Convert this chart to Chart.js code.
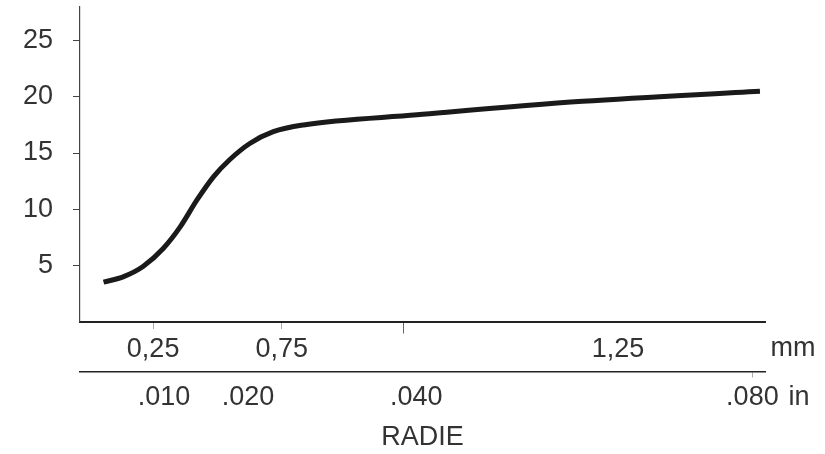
<!DOCTYPE html>
<html>
<head>
<meta charset="utf-8">
<script src="https://cdn.jsdelivr.net/npm/chart.js@4.4.1/dist/chart.umd.min.js"></script>
<style>
    body { margin: 0; background: #fff; }
    #wrap { width: 825px; height: 454px; }
</style>
</head>
<body>
<div id="wrap"><canvas id="chart1"></canvas></div>
<script>
// x runs in thousandths of an inch (follows the inch row of labels)
let radius = [2.8, 5.2, 7.5, 9.9, 11.9, 13.9, 15.9, 17.8, 20.2, 23.0, 26.6, 40.1, 59.8, 80.9];
let values = [3.5, 4.0, 4.9, 6.5, 8.4, 10.8, 12.9, 14.4, 15.85, 16.9, 17.5, 18.4, 19.6, 20.5];

let yTicks = [5, 10, 15, 20, 25];
let mmTickPos = [8.7, 24.0, 38.5, 64.0];
let mmTickLabels = ['0,25', '0,75', '', '1,25'];
let inTickPos = [10, 20, 40, 80];
let inTickLabels = ['.010', '.020', '.040', '.080'];

const textColor = '#333';
const font = { family: '"Liberation Sans", Arial, sans-serif', size: 27 };

// mm / in unit labels sit past the right end of the axes
const unitLabels = {
    id: 'unitLabels',
    afterDraw(chart) {
        const c = chart.ctx;
        const mm = chart.scales.x;
        const inch = chart.scales.xin;
        c.save();
        c.font = '27px "Liberation Sans", Arial, sans-serif';
        c.fillStyle = textColor;
        c.textAlign = 'center';
        c.textBaseline = 'middle';
        c.fillText('mm', mm.right + 28, mm.top + 27);
        c.fillText('in', inch.right + 34, inch.top + 26);
        c.restore();
    }
};

// no extra room for edge labels, the layout is fixed by hand
function noPad(scale) {
    scale.paddingTop = 0;
    scale.paddingBottom = 0;
    scale.paddingLeft = 0;
    scale.paddingRight = 0;
}

const chart1 = document.getElementById('chart1').getContext('2d');

new Chart(chart1, {
    type: 'line',
    data: {
        datasets: [
            {
                data: radius.map((r, i) => ({ x: r, y: values[i] })),
                borderColor: '#1a1a1a',
                borderWidth: 5,
                pointRadius: 0,
                cubicInterpolationMode: 'monotone',
                xAxisID: 'x',
                yAxisID: 'y'
            }
        ]
    },
    options: {
        responsive: true,
        maintainAspectRatio: false,
        animation: false,
        layout: { padding: { top: 7, right: 60, bottom: 0, left: 0 } },
        plugins: {
            legend: { display: false },
            tooltip: { enabled: false }
        },
        scales: {
            x: {
                type: 'linear',
                position: 'bottom',
                weight: 1,
                min: 0,
                max: 81.5,
                afterBuildTicks: (scale) => { scale.ticks = mmTickPos.map(v => ({ value: v })); },
                afterFit: (scale) => { scale.height = 50; noPad(scale); },
                border: { display: true, color: '#222', width: 2 },
                grid: {
                    display: true,
                    drawOnChartArea: false,
                    drawTicks: true,
                    tickLength: 12,
                    tickWidth: 1,
                    tickColor: (ctx) => ctx.index === 2 ? '#666' : (ctx.index === 3 ? 'rgba(0,0,0,0)' : '#aaa'),
                    tickBorderDash: (ctx) => ctx.index === 2 ? [] : [6, 40]
                },
                ticks: {
                    autoSkip: false,
                    maxRotation: 0,
                    padding: 0,
                    color: textColor,
                    font: font,
                    callback: (value, index) => mmTickLabels[index]
                }
            },
            xin: {
                type: 'linear',
                position: 'bottom',
                weight: 2,
                min: 0,
                max: 81.5,
                afterBuildTicks: (scale) => { scale.ticks = inTickPos.map(v => ({ value: v })); },
                afterFit: (scale) => { scale.height = 82.5; noPad(scale); },
                border: { display: true, color: '#222', width: 1.5 },
                grid: {
                    display: true,
                    drawOnChartArea: false,
                    drawTicks: true,
                    tickLength: 6,
                    tickColor: (ctx) => ctx.index === 3 ? '#aaa' : 'rgba(0,0,0,0)'
                },
                ticks: {
                    autoSkip: false,
                    maxRotation: 0,
                    padding: 4,
                    color: textColor,
                    font: font,
                    callback: (value, index) => inTickLabels[index]
                },
                title: {
                    display: true,
                    text: 'RADIE',
                    color: textColor,
                    font: font,
                    padding: { top: 0, bottom: 0 }
                }
            },
            y: {
                type: 'linear',
                position: 'left',
                min: 0,
                max: 28,
                afterBuildTicks: (scale) => { scale.ticks = yTicks.map(v => ({ value: v })); },
                afterFit: (scale) => { scale.width = 80; noPad(scale); },
                border: { display: true, color: '#444', width: 1.2 },
                grid: {
                    display: true,
                    drawOnChartArea: false,
                    drawTicks: true,
                    tickLength: 7,
                    tickColor: '#444'
                },
                ticks: {
                    padding: 20,
                    color: textColor,
                    font: font
                }
            }
        }
    },
    plugins: [unitLabels]
});
</script>
</body>
</html>
